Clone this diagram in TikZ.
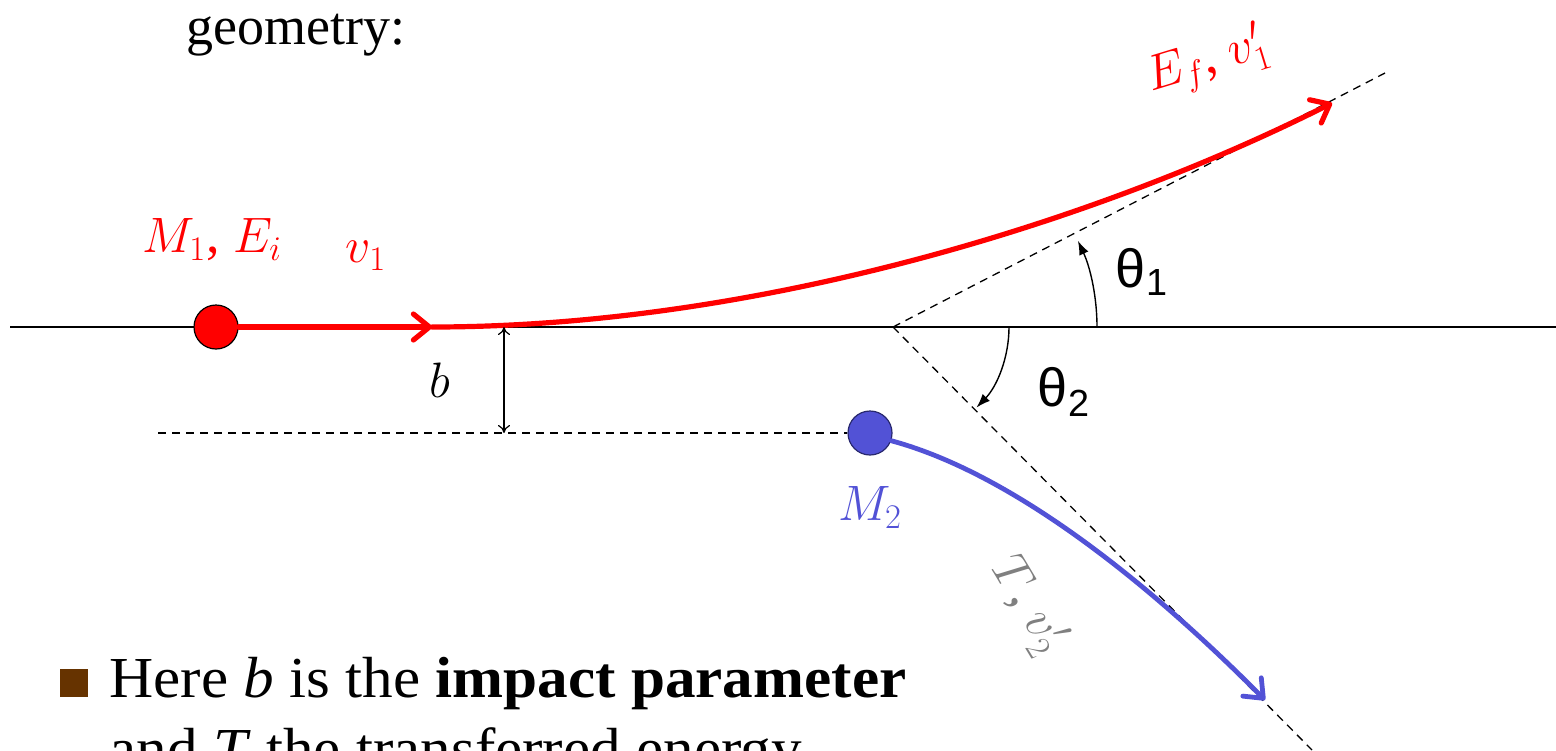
\documentclass[tikz,border=0pt]{standalone}
\usepackage{amsmath}
\usepackage{fontspec}
\setmainfont{Liberation Serif}
\newfontfamily\arialfont{Liberation Sans}
\usepackage{xcolor}
\usepackage{tikz}
\usetikzlibrary{arrows.meta,positioning}
\definecolor{collRed}{RGB}{255,0,0}
\definecolor{collBlue}{RGB}{82,82,214}
\definecolor{collBlueDark}{RGB}{40,40,110}
\definecolor{collGray}{RGB}{128,128,128}
\definecolor{collBrown}{RGB}{102,51,0}
\tikzset{
  ball/.style={circle, draw=black, line width=0.6pt, minimum size=22pt, inner sep=0pt},
  guide/.style={line width=0.65pt, dash pattern=on 4pt off 3pt},
  angleArrow/.style={line width=0.7pt, -{Latex[length=7pt,width=5pt]}},
  track/.style={line cap=round, -{Straight Barb[length=8pt,width=13pt,round]}},
  bigText/.style={font=\fontsize{27}{32}\selectfont},
}

\begin{document}
\begin{tikzpicture}[x=0.5pt, y=-0.5pt]
\useasboundingbox (0,0) rectangle (1556,750);

\node[bigText, anchor=base] (title) at (296,44) {geometry:};

% beam axis and the offset line of the target
\coordinate (axL) at (10,327);
\coordinate (axR) at (1556,327);
\draw[line width=0.75pt] (axL)--(axR);
\coordinate (offL) at (158,433);
\coordinate (o) at (893,327);
\coordinate (far1) at (1385,73);
\coordinate (far2) at (1312,750);
\draw[guide] (o)--(far1);
\draw[guide] (o)--(far2);

\node[ball, fill=collRed] (m1) at (216,327) {};
\node[ball, fill=collBlue, draw=collBlueDark] (m2) at (870,433) {};
\draw[guide] (offL)--(m2.west);

% projectile
\coordinate (kink) at (432,327);
\coordinate (tip1) at (1332,103);
\draw[collRed, line width=2.6pt, track] (m1.east)--(kink);
\draw[collRed, line width=2.6pt, track] (kink) .. controls (760,327) and (1100,220) .. (tip1);

% recoil
\coordinate (tip2) at (1265,700);
\draw[collBlue, line width=2.4pt, track] (m2.-20) .. controls (1000,470) and (1130,564) .. (tip2);

% impact parameter
\coordinate (bTop) at (504,327);
\coordinate (bBot) at (504,433);
\draw[line width=0.6pt, {To[length=4pt,width=6pt]}-{To[length=4pt,width=6pt]}] (bTop)--(bBot);
\node[bigText] (blab) at (440,380) {$b$};

% angles
\coordinate (th1Start) at (1097,327);
\coordinate (th2Start) at (1009,327);
\draw[angleArrow] (th1Start) arc[start angle=0, end angle=-25, radius=204];
\draw[angleArrow] (th2Start) arc[start angle=0, end angle=44, radius=116];
\node[font=\arialfont\fontsize{27}{32}\selectfont] (th1lab) at (1142,272) {θ\textsubscript{1}};
\node[font=\arialfont\fontsize{27}{32}\selectfont] (th2lab) at (1064,392) {θ\textsubscript{2}};

% labels
\node[bigText, text=collRed] (m1lab) at (212,240) {$M_1$, $E_i$};
\node[bigText, text=collRed] (v1lab) at (366,256) {$v_1$};
\node[bigText, text=collRed, rotate=17] (eflab) at (1208,62) {$E_f$, $v_1'$};
\node[bigText, text=collBlue, below=12pt of m2] (m2lab) {$M_2$};
\node[bigText, text=collGray, rotate=-59] (tlab) at (1028,605) {$T$, $v_2'$};

% bullet text
\node[fill=collBrown, minimum size=14pt, inner sep=0pt] (bullet) at (74,683) {};
\node[anchor=base west, xscale=1.055, font=\fontsize{29}{34}\selectfont] (note1) at (102,697) {Here \textit{b} is the \textbf{impact parameter}};
\node[anchor=base west, xscale=1.055, font=\fontsize{29}{34}\selectfont] (note2) at (102,768) {and \textit{T} the transferred energy};
\end{tikzpicture}
\end{document}
